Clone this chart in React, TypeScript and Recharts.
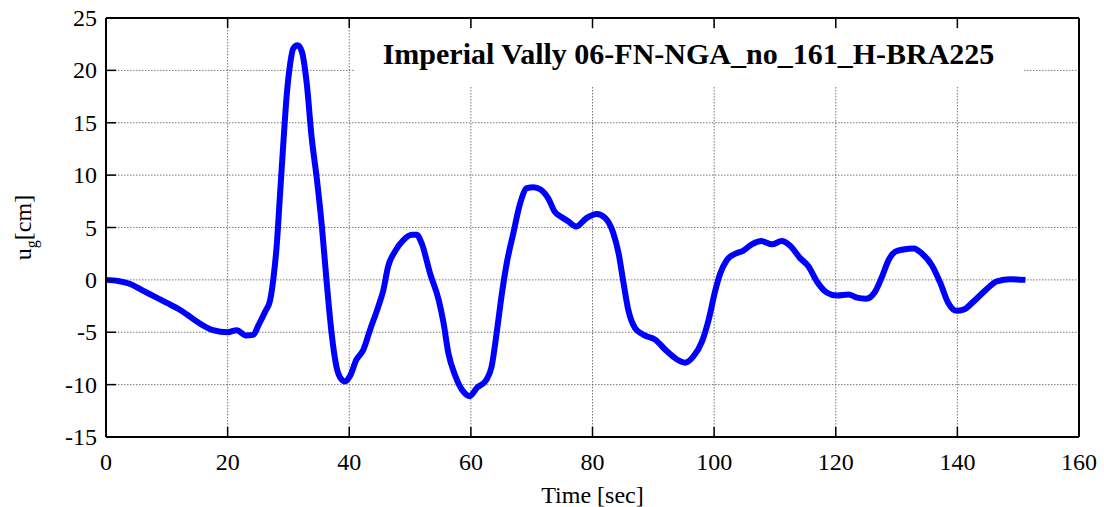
import { LineChart, Line, XAxis, YAxis, CartesianGrid } from 'recharts'

const timeSec = [
    0, 2, 4, 6, 8, 10, 12, 13.3, 15, 17.6,
    20, 21.5, 23, 24.2, 25.1, 26.2, 27.0, 27.5, 28.1, 28.6,
    29.2, 29.7, 30.3, 30.8, 31.5, 32.2, 33.0, 33.8, 34.7, 35.5,
    36.3, 37.1, 37.9, 38.6, 39.3, 40.1, 41.2, 42.3, 43.4, 44.8,
    45.6, 46.4, 47.5, 48.9, 50.3, 51.1, 51.9, 53.3, 54.7, 55.5,
    56.3, 57.4, 58.8, 59.8, 61.0, 62.6, 63.4, 64.3, 65.1, 65.9,
    67.0, 68.1, 69.2, 70.3, 71.4, 72.7, 73.8, 74.9, 76.0, 77.3,
    79.0, 80.7, 82.1, 83.4, 84.3, 85.1, 85.9, 87.0, 88.4, 90.3,
    92.2, 93.9, 95.2, 96.6, 98.0, 99.1, 100.2, 101.0, 102.1, 103.5,
    104.8, 106.2, 107.8, 109.5, 111.1, 112.5, 114.1, 115.5, 116.9, 118.5,
    120.2, 122.1, 123.5, 125.0, 126.5, 127.6, 128.7, 129.8, 131.1, 132.8,
    134.2, 135.8, 137.2, 138.5, 139.9, 141.0, 142.6, 144.6, 146.5, 148.7,
    151.2,
]

const displacementCm = [
    0, -0.1, -0.4, -1.0, -1.6, -2.2, -2.8, -3.3, -4.0, -4.8,
    -5.0, -4.8, -5.3, -5.25, -4.3, -3.0, -1.9, 0, 3.5, 8.0,
    13.4, 17.5, 20.7, 22.1, 22.4, 21.8, 18.8, 13.7, 9.5, 5.1,
    -0.3, -5.1, -8.3, -9.4, -9.7, -9.2, -7.6, -6.7, -4.8, -2.5,
    -1.0, 1.3, 2.7, 3.8, 4.3, 4.3, 3.5, 0.6, -1.9, -4.1,
    -7.0, -9.1, -10.7, -11.1, -10.3, -9.5, -8.3, -4.8, -1.3, 1.6,
    4.5, 7.3, 8.75, 8.85, 8.65, 7.8, 6.5, 6.0, 5.6, 5.1,
    5.9, 6.3, 5.9, 4.5, 2.5, -0.3, -2.9, -4.6, -5.25, -5.7,
    -6.8, -7.6, -7.9, -7.3, -5.9, -3.8, -1.0, 0.6, 1.9, 2.5,
    2.8, 3.4, 3.7, 3.4, 3.7, 3.25, 2.1, 1.3, -0.15, -1.2,
    -1.5, -1.4, -1.7, -1.8, -1.1, 0.3, 1.9, 2.7, 2.9, 3.0,
    2.5, 1.4, -0.3, -2.2, -2.95, -2.85, -2.1, -1.0, -0.15, 0.05,
    0.0,
]

const xTicks = [0, 20, 40, 60, 80, 100, 120, 140, 160]
const yTicks = [-15, -10, -5, 0, 5, 10, 15, 20, 25]

const title = 'Imperial Vally 06-FN-NGA_no_161_H-BRA225'

const data = timeSec.map((t, i) => ({ t, u: displacementCm[i] }))

const font = '"Liberation Serif", "Times New Roman", serif'
const TICK_LEN = 10

function BottomTick(props: any) {
    const { x, y, payload } = props
    return (
        <g>
            <line x1={x} y1={y} x2={x} y2={y - TICK_LEN} stroke='#000' strokeWidth={1.5} />
            <text x={x} y={y + 33} textAnchor='middle' style={{ fontFamily: font }} fontSize={24} fill='#000'>
                {payload.value}
            </text>
        </g>
    )
}

function TopTick(props: any) {
    const { x, y } = props
    return <line x1={x} y1={y} x2={x} y2={y + TICK_LEN} stroke='#000' strokeWidth={1.5} />
}

function LeftTick(props: any) {
    const { x, y, payload } = props
    return (
        <g>
            <line x1={x} y1={y} x2={x + TICK_LEN} y2={y} stroke='#000' strokeWidth={1.5} />
            <text x={x - 9} y={y + 8} textAnchor='end' style={{ fontFamily: font }} fontSize={24} fill='#000'>
                {payload.value}
            </text>
        </g>
    )
}

function RightTick(props: any) {
    const { x, y } = props
    return <line x1={x} y1={y} x2={x - TICK_LEN} y2={y} stroke='#000' strokeWidth={1.5} />
}

function YLabel(props: any) {
    const { viewBox } = props
    const cy = viewBox.y + viewBox.height / 2
    const cx = 31
    return (
        <text transform={`rotate(-90, ${cx}, ${cy})`} x={cx} y={cy} textAnchor='middle'
            style={{ fontFamily: font }} fontSize={24} fill='#000'>
            u<tspan fontSize={16} dy={6}>g</tspan><tspan dy={-6}>[cm]</tspan>
        </text>
    )
}

export default function App() {
    return (
        <div style={{ position: 'absolute', left: 0, top: 0, width: 1104, height: 507, background: '#fff', fontFamily: font }}>
            <LineChart
                width={1104}
                height={507}
                data={data}
                margin={{ top: 0, right: 0, left: 0, bottom: 0 }}
                style={{ fontFamily: font }}
            >
                <CartesianGrid stroke='#555' strokeWidth={0.8} strokeDasharray='1.5 1.5' />
                <XAxis
                    dataKey='t'
                    type='number'
                    domain={[0, 160]}
                    ticks={xTicks}
                    height={70}
                    tickSize={0}
                    tickMargin={0}
                    tickLine={false}
                    axisLine={{ stroke: '#000', strokeWidth: 2 }}
                    tick={<BottomTick />}
                    label={{ value: 'Time [sec]', position: 'insideBottom', offset: 4, fontFamily: font, fontSize: 24, fill: '#000' }}
                />
                <XAxis
                    xAxisId='top'
                    orientation='top'
                    dataKey='t'
                    type='number'
                    domain={[0, 160]}
                    ticks={xTicks}
                    height={18}
                    tickSize={0}
                    tickMargin={0}
                    tickLine={false}
                    axisLine={{ stroke: '#000', strokeWidth: 2 }}
                    tick={<TopTick />}
                />
                <YAxis
                    type='number'
                    domain={[-15, 25]}
                    ticks={yTicks}
                    width={106}
                    tickSize={0}
                    tickMargin={0}
                    tickLine={false}
                    axisLine={{ stroke: '#000', strokeWidth: 2 }}
                    tick={<LeftTick />}
                    label={<YLabel />}
                />
                <YAxis
                    yAxisId='right'
                    orientation='right'
                    type='number'
                    domain={[-15, 25]}
                    ticks={yTicks}
                    width={25}
                    tickSize={0}
                    tickMargin={0}
                    tickLine={false}
                    axisLine={{ stroke: '#000', strokeWidth: 2 }}
                    tick={<RightTick />}
                />
                <Line
                    type='monotone'
                    dataKey='u'
                    stroke='#0000ff'
                    strokeWidth={6}
                    dot={false}
                    isAnimationActive={false}
                />
            </LineChart>
            <div style={{
                position: 'absolute', left: 354, top: 29, width: 669, height: 57,
                background: '#fff', display: 'flex', alignItems: 'center', justifyContent: 'center',
                boxSizing: 'border-box', paddingBottom: 8,
                fontFamily: font, fontWeight: 'bold', fontSize: 30, color: '#000', whiteSpace: 'nowrap',
            }}>
                {title}
            </div>
        </div>
    )
}
